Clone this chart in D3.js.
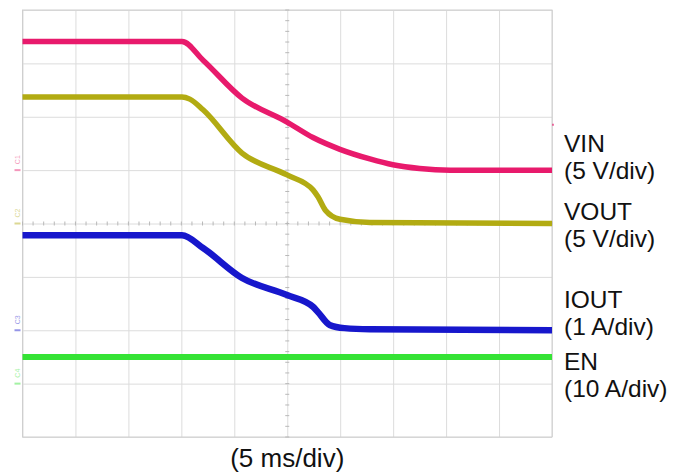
<!DOCTYPE html>
<style>
body { margin: 0; background: #fff; }
.grid .domain { display: none; }
.grid line { stroke: #dcdcdc; }
text { font-family: "Liberation Sans", Arial, sans-serif; }
</style>
<svg width="683" height="473"></svg>
<script src="https://d3js.org/d3.v7.min.js"></script>
<script>

// time in ms (5 ms/div, 10 div), level in divisions from bottom (8 div)
var vinT   = [0, 15.06, 17.05, 20.73, 24.98, 27.43, 29.98, 32.8, 34.98, 37.5, 40.4, 50];
var vinV   = [7.41, 7.41, 7.06, 6.35, 5.90, 5.61, 5.39, 5.21, 5.10, 5.03, 5.0, 5.0];
var voutT  = [0, 15.06, 15.8, 17.05, 20.73, 24.98, 27.43, 27.9, 28.6, 29.98, 32.8, 50];
var voutV  = [6.37, 6.37, 6.33, 6.13, 5.32, 4.91, 4.63, 4.50, 4.25, 4.08, 4.02, 4.0];
var ioutT  = [0, 15.06, 17.05, 20.73, 24.98, 27.43, 27.9, 29.0, 30.4, 32.8, 50];
var ioutV  = [3.78, 3.78, 3.54, 2.98, 2.66, 2.44, 2.34, 2.10, 2.04, 2.02, 2.0];
var enT    = [0, 50];
var enV    = [1.5, 1.5];

var labels = [
  {name: "VIN",  scale: "(5 V/div)"},
  {name: "VOUT", scale: "(5 V/div)"},
  {name: "IOUT", scale: "(1 A/div)"},
  {name: "EN",   scale: "(10 A/div)"}
];
var xLabel = "(5 ms/div)";

var svg = d3.select("svg"),
    margin = {top: 10, right: 131, bottom: 36, left: 22.5},
    width = +svg.attr("width") - margin.left - margin.right,
    height = +svg.attr("height") - margin.top - margin.bottom,
    g = svg.append("g").attr("transform", "translate(" + margin.left + "," + margin.top + ")");

var x = d3.scaleLinear().domain([0, 50]).range([0, width]);
var y = d3.scaleLinear().domain([0, 8]).range([height, 0]);

// grid
g.append("g")
    .attr("class", "grid")
    .attr("transform", "translate(0," + height + ")")
    .call(d3.axisBottom(x).tickValues(d3.range(0, 51, 5)).tickSize(-height).tickFormat(""));

g.append("g")
    .attr("class", "grid")
    .call(d3.axisLeft(y).tickValues(d3.range(0, 9, 1)).tickSize(-width).tickFormat(""));

g.append("rect")
    .attr("width", width)
    .attr("height", height)
    .attr("fill", "none")
    .attr("stroke", "#cfcfcf");

// centre crosshair minor ticks
var cx = x(25), cy = y(4);
g.append("g").selectAll("line")
    .data(d3.range(0, 50.01, 1))
    .enter().append("line")
      .attr("x1", function(d) { return x(d); })
      .attr("x2", function(d) { return x(d); })
      .attr("y1", cy - 2)
      .attr("y2", cy + 2)
      .attr("stroke", "#b8b8b8");
g.append("g").selectAll("line")
    .data(d3.range(0, 8.01, 0.2))
    .enter().append("line")
      .attr("y1", function(d) { return y(d); })
      .attr("y2", function(d) { return y(d); })
      .attr("x1", cx - 2)
      .attr("x2", cx + 2)
      .attr("stroke", "#b8b8b8");

// traces
var traces = [
  {t: enT,   v: enV,   color: "#35e335", w: 6},
  {t: ioutT, v: ioutV, color: "#1717cc", w: 6.5},
  {t: voutT, v: voutV, color: "#b2ab12", w: 5.5},
  {t: vinT,  v: vinV,  color: "#e81a6c", w: 5.5}
];

var line = d3.line()
    .x(function(d) { return x(d[0]); })
    .y(function(d) { return y(d[1]); })
    .curve(d3.curveMonotoneX);

g.selectAll(".trace")
    .data(traces)
    .enter().append("path")
      .attr("class", "trace")
      .attr("fill", "none")
      .attr("stroke", function(d) { return d.color; })
      .attr("stroke-width", function(d) { return d.w; })
      .attr("stroke-linejoin", "round")
      .attr("d", function(d) { return line(d3.zip(d.t, d.v)); });

// channel ground markers on the left
var markers = [
  {lvl: 5, color: "#e81a6c", txt: "C1"},
  {lvl: 4, color: "#b2ab12", txt: "C2"},
  {lvl: 2, color: "#1717cc", txt: "C3"},
  {lvl: 1, color: "#35e335", txt: "C4"}
];
var mk = g.append("g").selectAll("g")
    .data(markers)
    .enter().append("g")
      .attr("opacity", 0.45);
mk.append("line")
    .attr("x1", -8).attr("x2", -2)
    .attr("y1", function(d) { return y(d.lvl); })
    .attr("y2", function(d) { return y(d.lvl); })
    .attr("stroke", function(d) { return d.color; })
    .attr("stroke-width", 2);
mk.append("text")
    .attr("transform", function(d) { return "translate(-3," + (y(d.lvl) - 6) + ") rotate(-90)"; })
    .attr("font-size", 7)
    .attr("fill", function(d) { return d.color; })
    .text(function(d) { return d.txt; });

// trigger marker on the right
g.append("line")
    .attr("x1", width).attr("x2", width + 2)
    .attr("y1", y(5.85)).attr("y2", y(5.85))
    .attr("stroke", "#e81a6c")
    .attr("stroke-width", 2)
    .attr("opacity", 0.6);

// right labels
var labelY = [152, 220, 308, 370];
var lab = svg.append("g")
    .attr("font-size", 24.5)
    .attr("fill", "#111")
  .selectAll("text")
  .data(labels)
  .enter().append("text")
    .attr("x", 564)
    .attr("y", function(d, i) { return labelY[i]; });
lab.append("tspan").text(function(d) { return d.name; });
lab.append("tspan")
    .attr("x", 564)
    .attr("dy", 27)
    .text(function(d) { return d.scale; });

svg.append("text")
    .attr("x", margin.left + x(25))
    .attr("y", 467)
    .attr("text-anchor", "middle")
    .attr("font-size", 26)
    .attr("fill", "#111")
    .text(xLabel);

</script>
